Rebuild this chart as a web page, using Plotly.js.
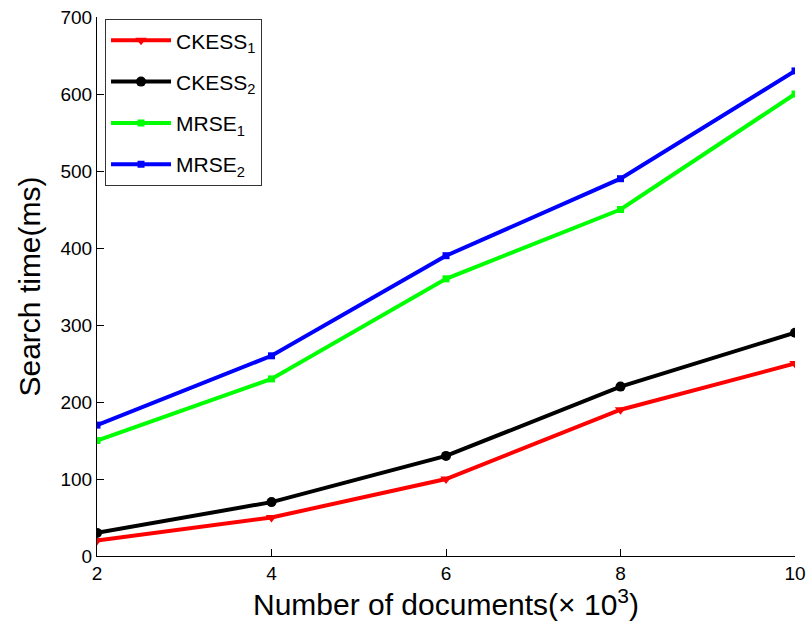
<!DOCTYPE html>
<html>
<head>
<meta charset="utf-8">
<script src="https://cdn.plot.ly/plotly-3.0.1.min.js"></script>
<style>html,body{margin:0;padding:0;background:#fff;}#chart{width:810px;height:635px;}</style>
</head>
<body>
<div id="chart"></div>
<script>
const docs = [2, 4, 6, 8, 10];
const ckess1 = [20, 50, 100, 190, 250];
const ckess2 = [30, 70, 130, 220, 290];
const mrse1 = [150, 230, 360, 450, 600];
const mrse2 = [170, 260, 390, 490, 630];
const seriesNames = ['CKESS<sub>1</sub>', 'CKESS<sub>2</sub>', 'MRSE<sub>1</sub>', 'MRSE<sub>2</sub>'];
const xTicks = [2, 4, 6, 8, 10];
const yTicks = [0, 100, 200, 300, 400, 500, 600, 700];

const traces = [
  {x: docs, y: ckess1, name: seriesNames[0], legendgroup: 'a', mode: 'lines+markers',
   line: {color: '#ff0000', width: 4}, marker: {symbol: 'triangle-down', size: 10, color: '#ff0000'}},
  {x: docs, y: ckess2, name: seriesNames[1], legendgroup: 'b', mode: 'lines+markers',
   line: {color: '#000000', width: 4}, marker: {symbol: 'circle', size: 10, color: '#000000'}},
  {x: docs, y: mrse1, name: seriesNames[2], legendgroup: 'c', mode: 'lines+markers',
   line: {color: '#00ff00', width: 4}, marker: {symbol: 'square', size: 7, color: '#00ff00'}},
  {x: docs, y: mrse2, name: seriesNames[3], legendgroup: 'd', mode: 'lines+markers',
   line: {color: '#0000ff', width: 4}, marker: {symbol: 'square', size: 7, color: '#0000ff'}}
];

const layout = {
  width: 810, height: 635,
  margin: {l: 97, r: 15, t: 17, b: 79},
  paper_bgcolor: '#fff', plot_bgcolor: '#fff',
  font: {family: 'Arial, Liberation Sans, sans-serif', color: '#000'},
  showlegend: true,
  legend: {
    x: 0.0115, y: 0.996, xanchor: 'left', yanchor: 'top',
    bgcolor: '#fff', bordercolor: '#333', borderwidth: 1,
    font: {size: 21, color: '#000'},
    traceorder: 'grouped', tracegroupgap: 11,
    itemwidth: 60, entrywidth: 150, entrywidthmode: 'pixels'
  },
  xaxis: {
    range: [2, 10], tickvals: xTicks, ticktext: xTicks.map(String),
    ticks: 'inside', ticklen: 7, tickcolor: '#000', tickwidth: 1,
    showline: true, linecolor: '#000', linewidth: 1, mirror: false,
    showgrid: false, zeroline: false,
    tickfont: {size: 19, color: '#000'},
    title: {text: 'Number of documents(× 10<sup>3</sup>)', font: {size: 30, color: '#000'}, standoff: 10}
  },
  yaxis: {
    range: [0, 700], tickvals: yTicks, ticktext: yTicks.map(String),
    ticks: 'inside', ticklen: 7, tickcolor: '#000', tickwidth: 1,
    showline: true, linecolor: '#000', linewidth: 1, mirror: false,
    showgrid: false, zeroline: false,
    tickfont: {size: 19, color: '#000'},
    title: {text: 'Search time(ms)', font: {size: 30, color: '#000'}, standoff: 10}
  }
};

Plotly.newPlot('chart', traces, layout, {displayModeBar: false, staticPlot: true});
</script>
</body>
</html>
